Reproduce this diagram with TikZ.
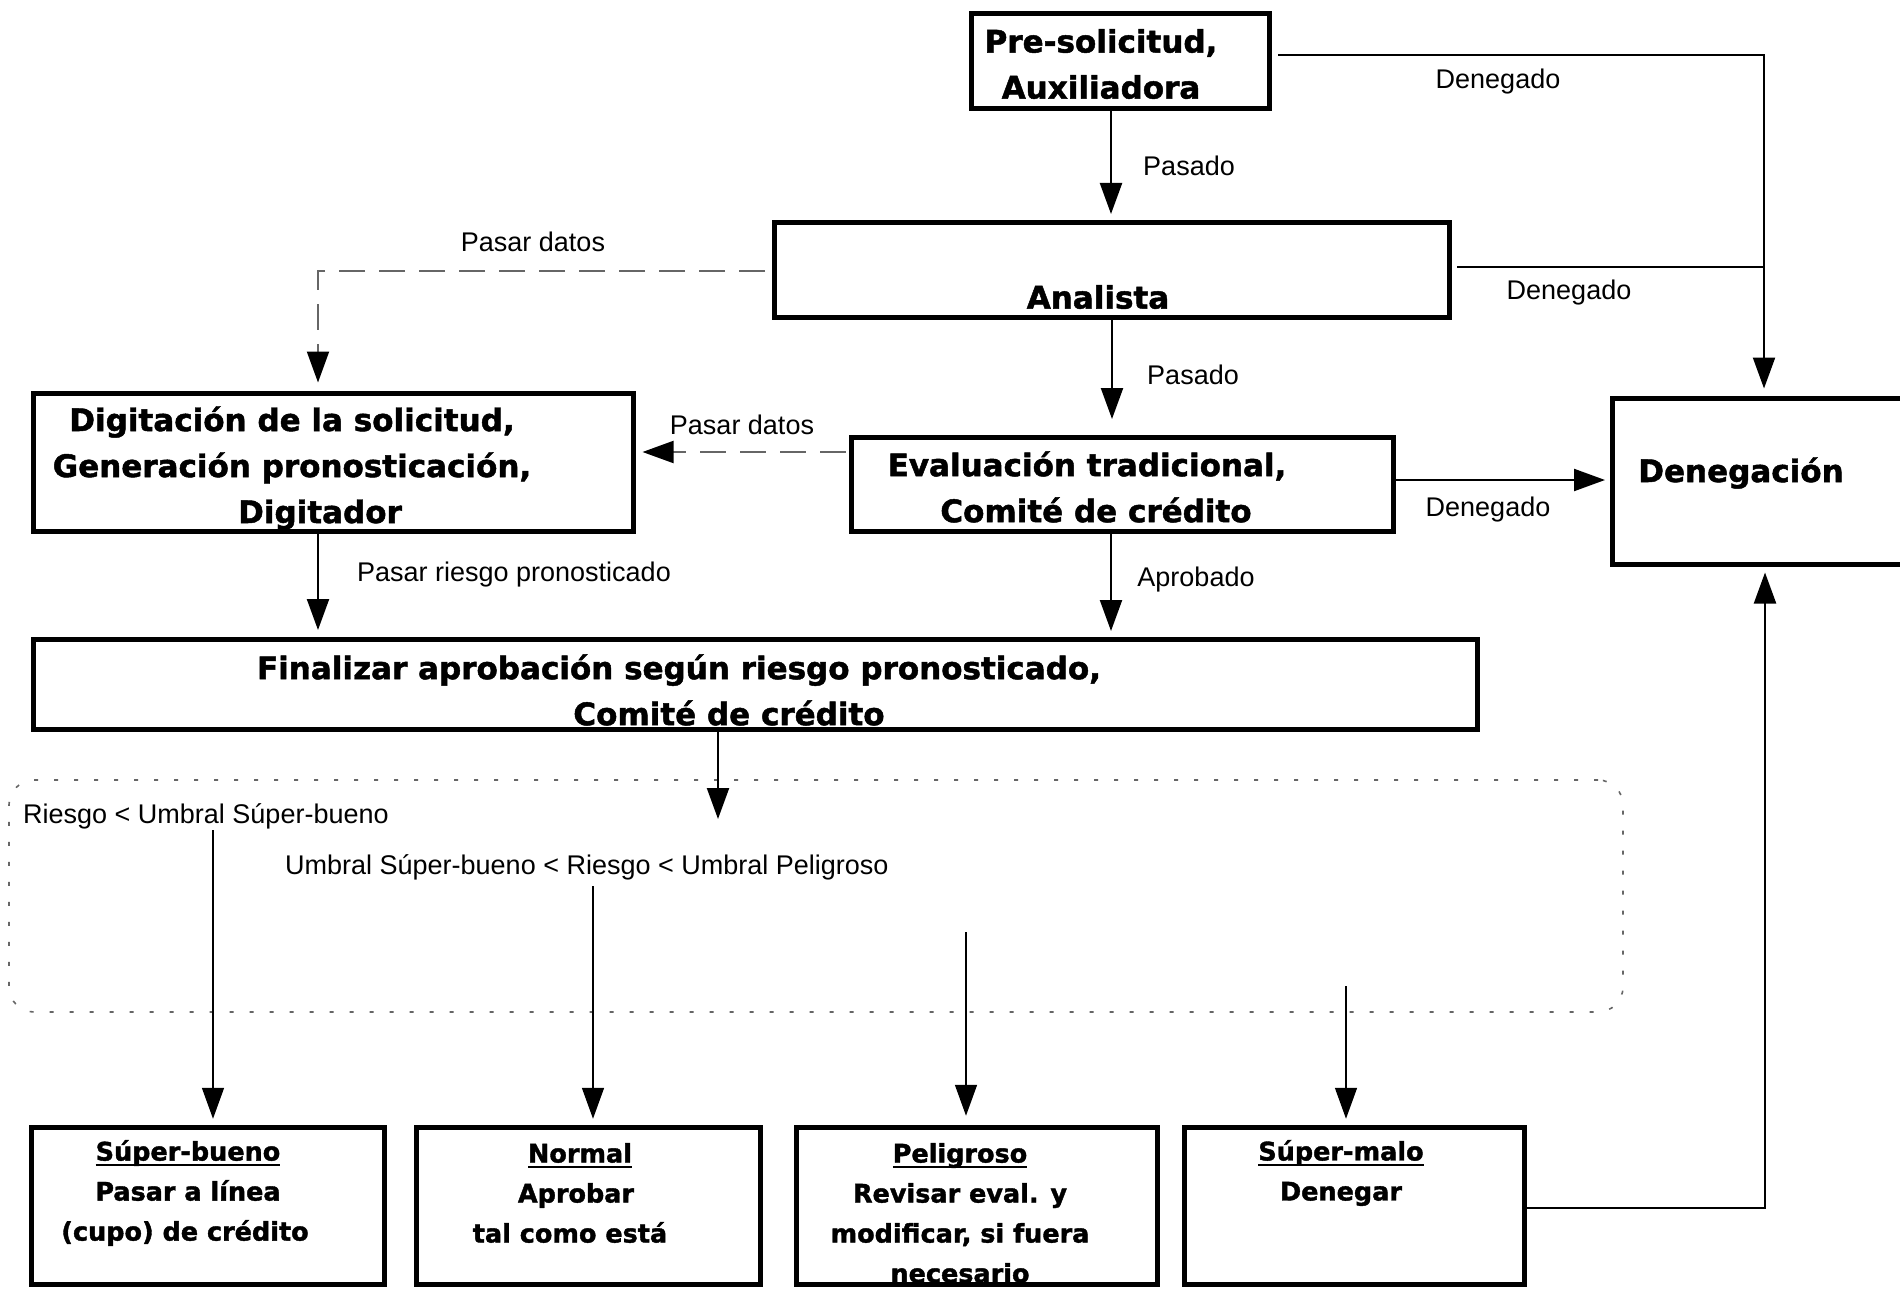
\documentclass[tikz,border=0pt]{standalone}
\usepackage{fontspec}
\setmainfont{DejaVu Sans}
\newfontfamily\heavy[FakeBold=1.5]{DejaVu Sans Bold}
\newfontfamily\labfont{Liberation Sans}
\usetikzlibrary{arrows.meta}
\newcommand\myul[1]{\setbox0\hbox{#1}\rlap{\rule[-5.5pt]{\wd0}{2.4pt}}\box0}
\tikzset{
  box/.style={draw, line width=5pt, inner sep=0pt},
  bigtxt/.style={font=\heavy\fontsize{31}{46}\selectfont, align=center, inner sep=0pt},
  smalltxt/.style={font=\heavy\fontsize{25.5}{40}\selectfont, align=center, inner sep=0pt},
  lbl/.style={font=\labfont\fontsize{27}{32}\selectfont, inner sep=0pt},
  conn/.style={line width=2.2pt},
  arr/.style={conn, -{Triangle[length=31pt,width=22pt]}},
  thinarr/.style={line width=1.6pt, -{Triangle[length=31pt,width=22pt]}},
  dashln/.style={line width=2pt, draw=black!60, dash pattern=on 26pt off 14pt},
  dasharr/.style={dashln, -{Triangle[length=31pt,width=22pt,color=black]}},
  dotbox/.style={draw=black!60, line width=1.6pt, dash pattern=on 4pt off 16pt, rounded corners=25pt, inner sep=0pt}
}
\begin{document}
\begin{tikzpicture}[x=1pt,y=-1pt]
\useasboundingbox (0,0) rectangle (1900,1289);
% boxes
\node[box, minimum width=298pt, minimum height=95pt] (pre) at (1120.5,61.5) {};
\node[box, minimum width=675pt, minimum height=95pt] (ana) at (1112,270) {};
\node[box, minimum width=600pt, minimum height=138pt] (dig) at (333,462) {};
\node[box, minimum width=542pt, minimum height=94pt] (eva) at (1122,484.5) {};
\node[box, minimum width=307pt, minimum height=166pt] (den) at (1766,481) {};
\node[box, minimum width=1444pt, minimum height=90pt] (fin) at (755,684.5) {};
\node[dotbox, minimum width=1614pt, minimum height=232pt] (grp) at (816,896) {};
\node[box, minimum width=353pt, minimum height=157.5pt] (sb) at (208,1206) {};
\node[box, minimum width=344pt, minimum height=157.5pt] (nor) at (588.5,1206) {};
\node[box, minimum width=361pt, minimum height=157.5pt] (pel) at (977,1206) {};
\node[box, minimum width=340pt, minimum height=157.5pt] (sm) at (1354.5,1206) {};
% box texts
\node[bigtxt] (tpre) at (1101,64) {Pre-solicitud,\\Auxiliadora};
\node[bigtxt] (tana) at (1098,297) {Analista};
\node[bigtxt] (tdig) at (292,468) {Digitación de la solicitud,\\Generación pronosticación,\\\hspace*{56pt}Digitador};
\node[bigtxt] (teva) at (1092,487) {\hspace*{-10pt}Evaluación tradicional,\\\hspace*{8pt}Comité de crédito};
\node[bigtxt] (tden) at (1741,473) {Denegación};
\node[bigtxt] (tfin) at (704,690) {\hspace*{-50pt}Finalizar aprobación según riesgo pronosticado,\\\hspace*{50pt}Comité de crédito};
\node[smalltxt] (tsb) at (188,1193) {\myul{Súper-bueno}\\Pasar a línea\\\hspace*{-6pt}(cupo) de crédito};
\node[smalltxt] (tnor) at (576,1193) {\hspace*{8pt}\myul{Normal}\\Aprobar\\\hspace*{-12pt}tal como está};
\node[smalltxt] (tpel) at (960,1213) {\myul{Peligroso}\\Revisar eval. y\\modificar, si fuera\\necesario};
\node[smalltxt] (tsm) at (1341,1173) {\myul{Súper-malo}\\Denegar};
% labels
\node[lbl] (l1) at (1498,82) {Denegado};
\node[lbl] (l2) at (1189,166) {Pasado};
\node[lbl] (l3) at (533,242) {Pasar datos};
\node[lbl] (l4) at (1569,293) {Denegado};
\node[lbl] (l5) at (1193,375) {Pasado};
\node[lbl] (l6) at (742,425) {Pasar datos};
\node[lbl] (l7) at (1488,510) {Denegado};
\node[lbl] (l8) at (514,575) {Pasar riesgo pronosticado};
\node[lbl] (l9) at (1196,580) {Aprobado};
\node[lbl, anchor=west] (l10) at (23,816) {Riesgo < Umbral Súper-bueno};
\node[lbl, anchor=west] (l11) at (285,867) {Umbral Súper-bueno < Riesgo < Umbral Peligroso};
% free-end coordinates
\coordinate (c0) at (718,819);
\coordinate (s1) at (213,830);
\coordinate (s2) at (593,886);
\coordinate (s3) at (966,932);
\coordinate (s4) at (1346,986);
% connectors
\draw[arr, shorten >=6pt] (1111,0 |- pre.south) -- (1111,0 |- ana.north);
\draw[arr, shorten <=6pt, shorten >=7pt] (pre.east |- 0,55) -- (1764,55) -- (1764,0 |- den.north);
\draw[conn, shorten <=5pt] (ana.east |- 0,267) -- (1764,267);
\draw[arr, shorten >=16pt] (1112,0 |- ana.south) -- (1112,0 |- eva.north);
\draw[dasharr, shorten <=7pt, shorten >=8pt] (ana.west |- 0,271) -- (318,271) -- (318,0 |- dig.north);
\draw[dasharr, shorten <=3pt, shorten >=7pt] (eva.west |- 0,452) -- (dig.east |- 0,452);
\draw[arr, shorten >=5pt] (eva.east |- 0,480) -- (den.west |- 0,480);
\draw[arr, shorten >=7pt] (318,0 |- dig.south) -- (318,0 |- fin.north);
\draw[arr, shorten >=6pt] (1111,0 |- eva.south) -- (1111,0 |- fin.north);
\draw[arr] (718,0 |- fin.south) -- (c0);
\draw[thinarr, shorten >=6pt] (s1) -- (s1 |- sb.north);
\draw[thinarr, shorten >=6pt] (s2) -- (s2 |- nor.north);
\draw[thinarr, shorten >=9pt] (s3) -- (s3 |- pel.north);
\draw[thinarr, shorten >=6pt] (s4) -- (s4 |- sm.north);
\draw[arr, shorten >=6pt] (sm.east |- 0,1208) -- (1765,1208) -- (1765,0 |- den.south);
\end{tikzpicture}
\end{document}
